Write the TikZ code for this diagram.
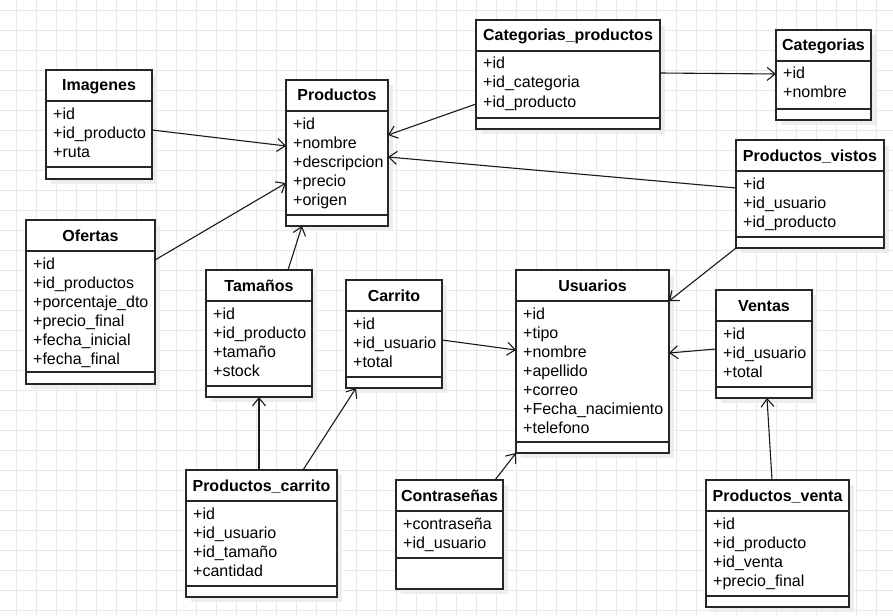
\documentclass[tikz,border=0pt]{standalone}
\usepackage{fontspec}
\setmainfont{Liberation Sans}
\usetikzlibrary{arrows.meta,calc}

\tikzset{
  caja/.style={draw=black!85, line width=1.4pt, fill=white, anchor=north west, inner sep=0pt, outer sep=0pt},
  sombra/.style={fill=black!7},
  titulo/.style={font=\fontsize{16}{19}\selectfont\bfseries, anchor=base, inner sep=0pt},
  campo/.style={font=\fontsize{16}{19}\selectfont, anchor=base west, inner sep=0pt},
  rel/.style={-{Straight Barb[length=8pt,width=13pt]}, line width=1.1pt, black!90},
  rejilla/.style={black!9, line width=0.9pt},
}

% #1 nombre, #2 x, #3 y, #4 ancho, #5 alto, #6 hueco inferior, #7 titulo, #8 campos
\newcommand{\tabla}[8]{
  \fill[sombra] (#2+5,#3+5) rectangle ++(#4,#5);
  \node[caja, minimum width=#4pt, minimum height=#5pt] (#1) at (#2,#3) {};
  \draw[line width=1.4pt, black!85] (#1.north west) ++(0,31) -- ++(#4,0);
  \draw[line width=1.4pt, black!85] (#1.south west) ++(0,-#6) -- ++(#4,0);
  \path (#1.north) ++(0,21) node[titulo] {#7};
  \foreach \campo [count=\k from 0] in {#8}
    \path (#1.north west) ++(7,49+19*\k) node[campo] {\campo};
}

\begin{document}
\begin{tikzpicture}[x=1pt,y=-1pt]
\useasboundingbox (0,0) rectangle (893,615);
\fill[white] (0,0) rectangle (893,615);
% rejilla de fondo
\foreach \x in {16.5,36.5,...,893} \draw[rejilla] (\x,0) -- (\x,615);
\foreach \y in {10,30,...,615} \draw[rejilla] (0,\y) -- (893,\y);

% tablas
\tabla{img}{46}{70}{106}{109}{12}{Imagenes}{+id,+id\_producto,+ruta}
\tabla{prod}{286}{80}{102}{146}{11}{Productos}{+id,+nombre,+descripcion,+precio,+origen}
\tabla{catprod}{476}{20}{184}{109}{11}{Categorias\_productos}{+id,+id\_categoria,+id\_producto}
\tabla{cat}{776}{30}{95}{90}{11}{Categorias}{+id,+nombre}
\tabla{vistos}{736}{140}{148}{108}{11}{Productos\_vistos}{+id,+id\_usuario,+id\_producto}
\tabla{of}{26}{220}{129}{164}{12}{Ofertas}{+id,+id\_productos,+porcentaje\_dto,+precio\_final,+fecha\_inicial,+fecha\_final}
\tabla{tam}{206}{270}{106}{127}{11}{Tamaños}{+id,+id\_producto,+tamaño,+stock}
\tabla{carrito}{346}{280}{96}{108}{11}{Carrito}{+id,+id\_usuario,+total}
\tabla{usu}{516}{270}{153}{183}{11}{Usuarios}{+id,+tipo,+nombre,+apellido,+correo,+Fecha\_nacimiento,+telefono}
\tabla{ventas}{716}{290}{96}{108}{11}{Ventas}{+id,+id\_usuario,+total}
\tabla{pcarrito}{186}{470}{151}{127}{11}{Productos\_carrito}{+id,+id\_usuario,+id\_tamaño,+cantidad}
\tabla{contra}{396}{480}{107}{109}{31}{Contraseñas}{+contraseña,+id\_usuario}
\tabla{pventa}{706}{480}{143}{127}{11}{Productos\_venta}{+id,+id\_producto,+id\_venta,+precio\_final}

% relaciones
\draw[rel] (img.east |- 0,130) -- (prod.west |- 0,146);
\draw[rel] (of.east |- 0,260) -- (prod.west |- 0,183);
\draw[rel] (tam.north -| 288,0) -- (prod.south -| 302,0);
\draw[rel] (catprod.west |- 0,104) -- (prod.east |- 0,135);
\draw[rel] (catprod.east |- 0,73) -- (cat.west |- 0,74);
\draw[rel] (vistos.west |- 0,188) -- (prod.east |- 0,157);
\draw[rel] (vistos.south west) -- (usu.east |- 0,301);
\draw[rel] (carrito.east |- 0,340) -- (usu.west |- 0,350);
\draw[rel] (ventas.west |- 0,349) -- (usu.east |- 0,353);
\draw[rel] (pcarrito.north -| tam.south) -- (tam.south);
\draw[rel] (pcarrito.north -| 303,0) -- (carrito.south -| 356,0);
\draw[rel] (contra.north -| 495,0) -- (usu.south west);
\draw[rel] (pventa.north -| 772,0) -- (ventas.south -| 767,0);
\end{tikzpicture}
\end{document}
